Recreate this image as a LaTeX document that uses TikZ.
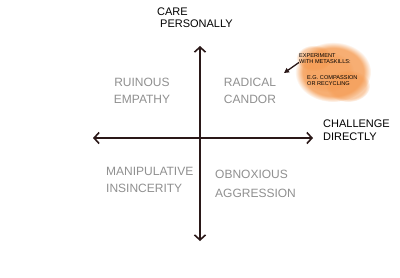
\documentclass[tikz,border=0pt]{standalone}
\usepackage{fontspec}
\setmainfont{Liberation Sans}
\usetikzlibrary{arrows.meta,fadings}
\definecolor{axis}{HTML}{2A1818}
\definecolor{quad}{HTML}{909090}
\definecolor{blob}{HTML}{F59A50}
\tikzset{
  axisline/.style={draw=axis, line width=1.8pt, -{Straight Barb[length=5pt,width=11pt,line width=1.6pt]}},
  quadlabel/.style={text=quad, font=\fontsize{12}{14}\selectfont, align=center, inner sep=0pt},
  axislabel/.style={text=black, font=\fontsize{11}{12}\selectfont, align=left, inner sep=0pt},
  notelabel/.style={text=black, font=\fontsize{5.6}{6.6}\selectfont, align=left, inner sep=0pt},
  blobpart/.style={fill=blob, path fading=circle with fuzzy edge 20 percent}
}
\begin{document}
\begin{tikzpicture}[x=1pt,y=-1pt]
\useasboundingbox (0,0) rectangle (400,277);
\fill[white] (0,0) rectangle (400,277);
% orange blob
\fill[blobpart, opacity=0.8] (333,72) ellipse (38 and 30);
\fill[blobpart, opacity=0.5] (348,86) ellipse (22 and 16);
\fill[blobpart, opacity=0.5] (314,58) ellipse (18 and 13);
\fill[blobpart, opacity=0.4] (328,72) ellipse (26 and 20);
% axis coordinates
\coordinate (o) at (200,138);
\coordinate (top) at (200,46);
\coordinate (bot) at (200,241);
\coordinate (lft) at (93,138);
\coordinate (rgt) at (313,138);
\draw[axisline] (o) -- (top);
\draw[axisline] (o) -- (bot);
\draw[axisline] (o) -- (lft);
\draw[axisline] (o) -- (rgt);
% axis labels
\node[axislabel, anchor=north west] (care) at (157,8) {CARE\\[0pt]\hspace*{3pt}PERSONALLY};
\node[axislabel, anchor=north west] (chal) at (323,120) {CHALLENGE\\[1pt]DIRECTLY};
% quadrants
\node[quadlabel] (ruin) at (142,91) {RUINOUS\\[3pt]EMPATHY};
\node[quadlabel] (rad) at (250,91) {RADICAL\\[3pt]CANDOR};
\node[quadlabel, anchor=north west, align=left] (man) at (106,167) {MANIPULATIVE\\[3pt]INSINCERITY};
\node[quadlabel, anchor=north west, align=left] (obn) at (215,170) {OBNOXIOUS\\[5pt]AGGRESSION};
% note
\node[notelabel, anchor=north west] (note) at (299,53) {EXPERIMENT\\WITH METASKILLS:};
\node[notelabel, anchor=north west] (note2) at (307,75) {E.G. COMPASSION\\OR RECYCLING};
\draw[axis, line width=1.3pt, -{Triangle[length=5pt,width=5pt]}] (note.west) ++(0,4) coordinate (ns) -- (284,73) coordinate (ne);
\end{tikzpicture}
\end{document}
